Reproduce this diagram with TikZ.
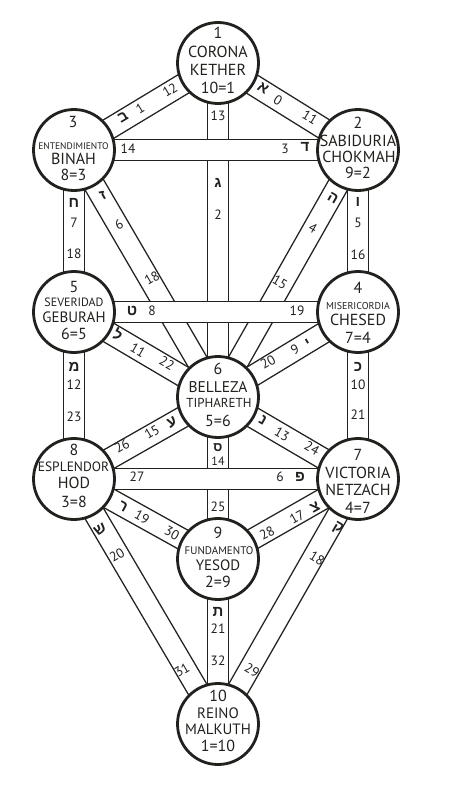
\documentclass[tikz,border=0pt]{standalone}
\usepackage{fontspec}
\setmainfont{PT Sans}
\newfontfamily\hebfont[Script=Hebrew]{Liberation Sans}
\definecolor{ink}{RGB}{35,33,30}
\pgfdeclarelayer{paper}
\pgfdeclarelayer{background}
\pgfsetlayers{paper,background,main}
\begin{document}
\begin{tikzpicture}[x=1pt,y=-1pt,
  sephira/.style={circle,draw=ink,line width=2.8pt,fill=white,minimum size=81pt,inner sep=0pt},
  band/.style={draw=ink,line width=1.4pt,double=white,double distance=19.6pt},
  num/.style={inner sep=0pt,text=ink,font=\fontsize{13.5}{14}\selectfont},
  heb/.style={inner sep=0pt,text=ink,font=\hebfont\bfseries\fontsize{15}{15}\selectfont},
  big/.style={inner sep=0pt,text=ink,font=\fontsize{16}{16}\selectfont},
  mid/.style={inner sep=0pt,text=ink,font=\fontsize{13}{13}\selectfont},
  small/.style={inner sep=0pt,text=ink,font=\fontsize{9.5}{10}\selectfont},
]
\useasboundingbox (0,0) rectangle (464,800);
\begin{pgfonlayer}{paper}
\fill[white] (0,0) rectangle (464,800);
\end{pgfonlayer}

% Sephirot
\node[sephira] (kether)  at (218,63)  {};
\node[sephira] (binah)   at (74,150)  {};
\node[sephira] (chokmah) at (358,150) {};
\node[sephira] (geburah) at (74,312)  {};
\node[sephira] (chesed)  at (358,312) {};
\node[sephira] (tiph)    at (218,397) {};
\node[sephira] (hod)     at (74,479)  {};
\node[sephira] (netzach) at (358,479) {};
\node[sephira] (yesod)   at (218,559) {};
\node[sephira] (malkuth) at (218,724) {};

% Paths (bands)
\begin{pgfonlayer}{background}
\draw[band] (kether.center) -- (binah.center);
\draw[band] (kether.center) -- (chokmah.center);
\draw[band] (kether.center) -- (tiph.center);
\draw[band] (binah.center) -- (geburah.center);
\draw[band] (chokmah.center) -- (chesed.center);
\draw[band] (binah.center) -- (tiph.center);
\draw[band] (chokmah.center) -- (tiph.center);
\draw[band] (geburah.center) -- (tiph.center);
\draw[band] (chesed.center) -- (tiph.center);
\draw[band] (geburah.center) -- (hod.center);
\draw[band] (chesed.center) -- (netzach.center);
\draw[band] (tiph.center) -- (hod.center);
\draw[band] (tiph.center) -- (netzach.center);
\draw[band] (tiph.center) -- (yesod.center);
\draw[band] (hod.center) -- (yesod.center);
\draw[band] (netzach.center) -- (yesod.center);
\draw[band] (hod.center) -- (malkuth.center);
\draw[band] (netzach.center) -- (malkuth.center);
\draw[band] (yesod.center) -- (malkuth.center);
\draw[band] (binah.center) -- (chokmah.center);
\draw[band] (geburah.center) -- (chesed.center);
\draw[band] (hod.center) -- (netzach.center);
\end{pgfonlayer}

% Sephirot texts
\node[big] (t1a) at (218,33) {1};
\node[big] (t1b) at (218,52) {CORONA};
\node[big] (t1c) at (218,70) {KETHER};
\node[big] (t1d) at (218,88) {10=1};

\node[big]   (t3a) at (73,122) {3};
\node[small] (t3b) at (73.5,146) {ENTENDIMIENTO};
\node[big]   (t3c) at (73.5,159) {BINAH};
\node[big]   (t3d) at (73.5,175) {8=3};

\node[big] (t2a) at (358,123) {2};
\node[big] (t2b) at (358,141) {SABIDURIA};
\node[big] (t2c) at (359,157) {CHOKMAH};
\node[big] (t2d) at (358,173) {9=2};

\node[big] (t5a) at (74,287) {5};
\node[inner sep=0pt,text=ink,font=\fontsize{12}{12}\selectfont] (t5b) at (74,302) {SEVERIDAD};
\node[inner sep=0pt,text=ink,font=\fontsize{15}{15}\selectfont] (t5c) at (74,317) {GEBURAH};
\node[big] (t5d) at (74,334) {6=5};

\node[big] (t4a) at (358,288) {4};
\node[inner sep=0pt,text=ink,font=\fontsize{10}{10}\selectfont] (t4b) at (358,306) {MISERICORDIA};
\node[big] (t4c) at (358,320) {CHESED};
\node[big] (t4d) at (358,338) {7=4};

\node[big] (t6a) at (218,369) {6};
\node[inner sep=0pt,text=ink,font=\fontsize{15.5}{15}\selectfont] (t6b) at (218,387) {BELLEZA};
\node[mid] (t6c) at (219,403) {TIPHARETH};
\node[big] (t6d) at (218,421) {5=6};

\node[big] (t8a) at (74,450) {8};
\node[inner sep=0pt,text=ink,font=\fontsize{13.5}{14}\selectfont] (t8b) at (73.5,467) {ESPLENDOR};
\node[big] (t8c) at (74,483) {HOD};
\node[big] (t8d) at (74,502) {3=8};

\node[big] (t7a) at (358,455) {7};
\node[big] (t7b) at (358,473) {VICTORIA};
\node[big] (t7c) at (358,490) {NETZACH};
\node[big] (t7d) at (358,508) {4=7};

\node[big] (t9a) at (218,533) {9};
\node[inner sep=0pt,text=ink,font=\fontsize{11}{11}\selectfont] (t9b) at (219,551) {FUNDAMENTO};
\node[inner sep=0pt,text=ink,font=\fontsize{15}{15}\selectfont] (t9c) at (218,565) {YESOD};
\node[big] (t9d) at (218,582) {2=9};

\node[big] (t10a) at (218,696) {10};
\node[inner sep=0pt,text=ink,font=\fontsize{15}{15}\selectfont] (t10b) at (218,713) {REINO};
\node[inner sep=0pt,text=ink,font=\fontsize{15}{15}\selectfont] (t10c) at (218,729) {MALKUTH};
\node[big] (t10d) at (218,746) {1=10};

% Path labels
% Kether - Binah
\node[heb,rotate=31] (pa1) at (123,117) {ב};
\node[num,rotate=31] (pa2) at (140,108) {1};
\node[num,rotate=31] (pa3) at (170,90) {12};
% Kether - Chokmah
\node[heb,rotate=-31] (pb1) at (263,88) {א};
\node[num,rotate=-31] (pb2) at (278,100) {0};
\node[num,rotate=-31] (pb3) at (310,117) {11};
% Kether - Tiphareth
\node[num] (pc1) at (218,116) {13};
\node[heb] (pc2) at (218,183) {ג};
\node[num] (pc3) at (218,215) {2};
% Binah - Chokmah
\node[num] (pd1) at (128,149) {14};
\node[num] (pd2) at (285,149) {3};
\node[heb] (pd3) at (305,147) {ד};
% Binah - Geburah
\node[heb] (pe1) at (74,203) {ח};
\node[num] (pe2) at (74,223) {7};
\node[num] (pe3) at (74,254) {18};
% Binah - Tiphareth
\node[heb,rotate=30] (pf1) at (103,195) {ז};
\node[num,rotate=30] (pf2) at (119,225) {6};
\node[num,rotate=30] (pf3) at (152,278) {18};
% Chokmah - Tiphareth
\node[heb,rotate=-30] (pg1) at (333,198) {ה};
\node[num,rotate=-30] (pg2) at (313,228) {4};
\node[num,rotate=-30] (pg3) at (280,282) {15};
% Chokmah - Chesed
\node[heb] (ph1) at (358,202) {ו};
\node[num] (ph2) at (358,223) {5};
\node[num] (ph3) at (358,255) {16};
% Geburah - Chesed
\node[heb] (pi1) at (132,311) {ט};
\node[num] (pi2) at (152,311) {8};
\node[num] (pi3) at (297,311) {19};
% Geburah - Tiphareth
\node[heb,rotate=-30] (pj1) at (118,335) {ל};
\node[num,rotate=-30] (pj2) at (138,350) {11};
\node[num,rotate=-30] (pj3) at (167,363) {22};
% Chesed - Tiphareth
\node[num,rotate=30] (pk1) at (268,362) {20};
\node[num,rotate=30] (pk2) at (295,350) {9};
\node[heb,rotate=30] (pk3) at (308,343) {י};
% Geburah - Hod
\node[heb] (pl1) at (74,367) {מ};
\node[num] (pl2) at (74,385) {12};
\node[num] (pl3) at (74,417) {23};
% Chesed - Netzach
\node[heb] (pm1) at (358,367) {כ};
\node[num] (pm2) at (358,385) {10};
\node[num] (pm3) at (358,415) {21};
% Tiphareth - Hod
\node[heb,rotate=30] (pn1) at (172,422) {ע};
\node[num,rotate=30] (pn2) at (152,432) {15};
\node[num,rotate=30] (pn3) at (122,446) {26};
% Tiphareth - Netzach
\node[heb,rotate=-30] (po1) at (263,420) {נ};
\node[num,rotate=-30] (po2) at (282,434) {13};
\node[num,rotate=-30] (po3) at (312,448) {24};
% Tiphareth - Yesod
\node[heb,font=\hebfont\bfseries\fontsize{13}{13}\selectfont] (pp1) at (218,448) {ס};
\node[num,font=\fontsize{12}{12}\selectfont] (pp2) at (218,461) {14};
\node[num] (pp3) at (218,507) {25};
% Hod - Netzach
\node[num] (pq1) at (137,477) {27};
\node[num] (pq2) at (280,477) {6};
\node[heb] (pq3) at (300,477) {פ};
% Hod - Yesod
\node[heb,rotate=-29] (pr1) at (123,507) {ר};
\node[num,rotate=-29] (pr2) at (142,517) {19};
\node[num,rotate=-29] (pr3) at (172,533) {30};
% Netzach - Yesod
\node[heb,rotate=29] (ps1) at (315,507) {צ};
\node[num,rotate=29] (ps2) at (297,517) {17};
\node[num,rotate=29] (ps3) at (267,533) {28};
% Hod - Malkuth
\node[heb,rotate=30.5] (pt1) at (100,530) {ש};
\node[num,rotate=30.5] (pt2) at (117,555) {20};
\node[num,rotate=30.5] (pt3) at (182,670) {31};
% Netzach - Malkuth
\node[heb,rotate=-30.5] (pu1) at (338,528) {ק};
\node[num,rotate=-30.5] (pu2) at (317,558) {18};
\node[num,rotate=-30.5] (pu3) at (252,670) {29};
% Yesod - Malkuth
\node[heb] (pv1) at (218,612) {ת};
\node[num] (pv2) at (218,629) {21};
\node[num] (pv3) at (218,661) {32};
\end{tikzpicture}
\end{document}
